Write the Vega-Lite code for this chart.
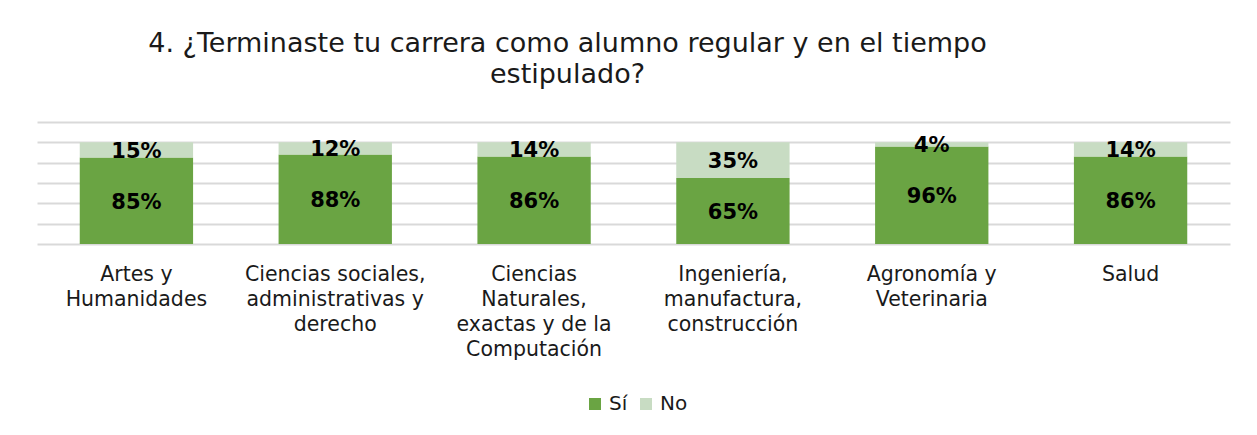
{
  "$schema": "https://vega.github.io/schema/vega-lite/v6.json",
  "width": 1193,
  "height": 122,
  "autosize": {"type": "none"},
  "padding": {"left": 37, "top": 122, "right": 27, "bottom": 191},
  "background": "white",
  "title": {
    "text": ["4. ¿Terminaste tu carrera como alumno regular y en el tiempo", "estipulado?"],
    "anchor": "middle",
    "frame": "group",
    "dx": -66,
    "offset": 33,
    "font": "DejaVu Sans",
    "fontSize": 27,
    "fontWeight": "normal",
    "color": "#1a1a1a",
    "lineHeight": 31
  },
  "data": {
    "values": [
      {"carrera": "Artes y|Humanidades", "respuesta": "Sí", "pct": 0.85},
      {"carrera": "Artes y|Humanidades", "respuesta": "No", "pct": 0.15},
      {"carrera": "Ciencias sociales,|administrativas y|derecho", "respuesta": "Sí", "pct": 0.88},
      {"carrera": "Ciencias sociales,|administrativas y|derecho", "respuesta": "No", "pct": 0.12},
      {"carrera": "Ciencias|Naturales,|exactas y de la|Computación", "respuesta": "Sí", "pct": 0.86},
      {"carrera": "Ciencias|Naturales,|exactas y de la|Computación", "respuesta": "No", "pct": 0.14},
      {"carrera": "Ingeniería,|manufactura,|construcción", "respuesta": "Sí", "pct": 0.65},
      {"carrera": "Ingeniería,|manufactura,|construcción", "respuesta": "No", "pct": 0.35},
      {"carrera": "Agronomía y|Veterinaria", "respuesta": "Sí", "pct": 0.96},
      {"carrera": "Agronomía y|Veterinaria", "respuesta": "No", "pct": 0.04},
      {"carrera": "Salud", "respuesta": "Sí", "pct": 0.86},
      {"carrera": "Salud", "respuesta": "No", "pct": 0.14}
    ]
  },
  "transform": [
    {"stack": "pct", "groupby": ["carrera"], "sort": [{"field": "respuesta", "order": "descending"}], "as": ["y0", "y1"]},
    {"calculate": "(datum.y0 + datum.y1) / 2", "as": "mid"}
  ],
  "encoding": {
    "x": {
      "field": "carrera",
      "type": "nominal",
      "sort": null,
      "scale": {"paddingInner": 0.43, "paddingOuter": 0.215},
      "axis": {
        "title": null,
        "labelAngle": 0,
        "labelExpr": "split(datum.label, '|')",
        "labelFont": "DejaVu Sans",
        "labelFontSize": 20.5,
        "labelColor": "#1a1a1a",
        "labelLineHeight": 25,
        "labelPadding": 20,
        "ticks": false,
        "domain": false,
        "grid": false,
        "labelLimit": 0
      }
    },
    "y": {
      "field": "y0",
      "type": "quantitative",
      "scale": {"domain": [0, 1.2], "nice": false},
      "axis": {
        "title": null,
        "labels": false,
        "ticks": false,
        "domain": false,
        "values": [0, 0.2, 0.4, 0.6, 0.8, 1.0, 1.2],
        "tickCount": 7,
        "gridColor": "#D9D9D9",
        "gridWidth": 2
      }
    }
  },
  "layer": [
    {
      "mark": {"type": "bar"},
      "encoding": {
        "y2": {"field": "y1"},
        "color": {
          "field": "respuesta",
          "type": "nominal",
          "scale": {"domain": ["Sí", "No"], "range": ["#6AA443", "#C8DCC3"]},
          "legend": {
            "title": null,
            "orient": "none",
            "direction": "horizontal",
            "legendX": 548,
            "legendY": 272,
            "symbolType": "square",
            "symbolSize": 144,
            "symbolStrokeWidth": 0,
            "labelFont": "DejaVu Sans",
            "labelFontSize": 20,
            "labelColor": "#1a1a1a",
            "labelOffset": 4,
            "columnPadding": 8,
            "padding": 0
          }
        }
      }
    },
    {
      "mark": {"type": "text", "font": "DejaVu Sans", "fontSize": 21, "fontWeight": "bold", "color": "#000000", "baseline": "middle", "dy": 2},
      "encoding": {
        "y": {"field": "mid", "type": "quantitative"},
        "text": {"field": "pct", "type": "quantitative", "format": ".0%"}
      }
    }
  ],
  "config": {"view": {"stroke": null}}
}
